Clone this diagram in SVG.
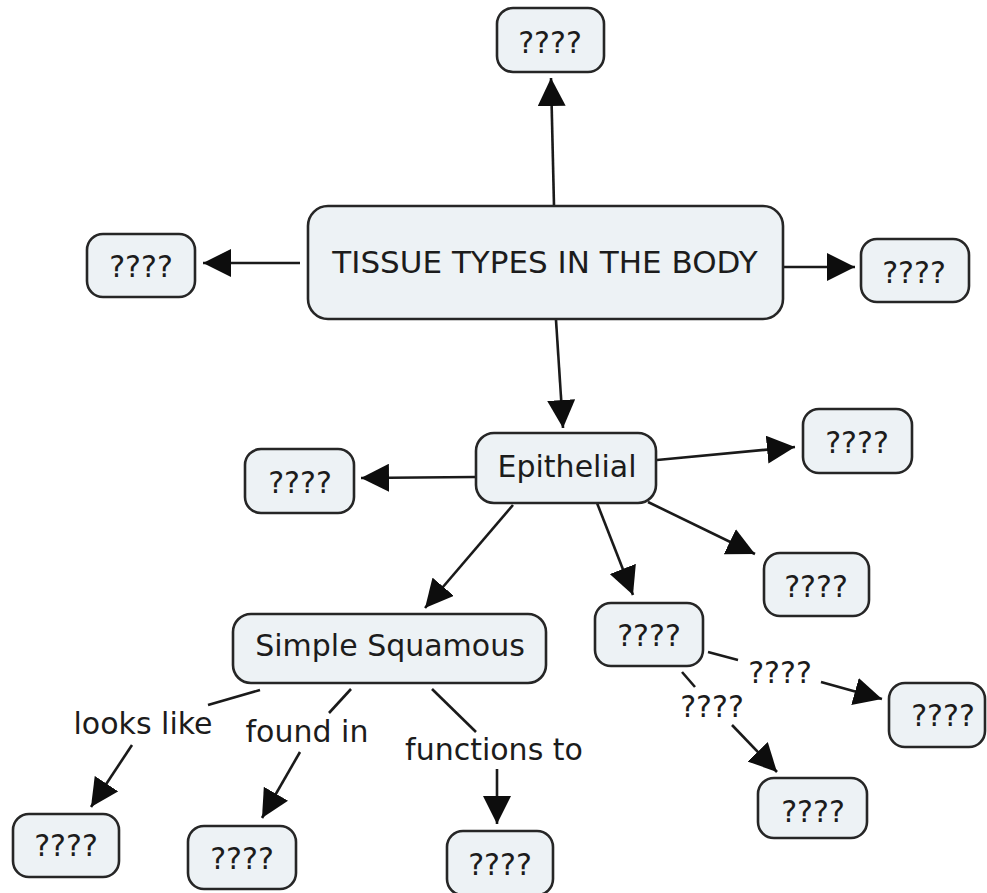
<svg xmlns="http://www.w3.org/2000/svg" width="987" height="893" viewBox="0 0 987 893">
<defs>
<style>
.node rect{fill:#edf2f5;stroke:#262626;stroke-width:2.6}
.node text,.lbl{font-family:"DejaVu Sans",Verdana,sans-serif;font-size:30px;fill:#1c1c1c;text-anchor:middle}
.conn line{stroke:#1a1a1a;stroke-width:2.6}
.arr{marker-end:url(#ah)}
</style>
<marker id="ah" viewBox="0 0 28 28" refX="28" refY="14" markerWidth="28" markerHeight="28" markerUnits="userSpaceOnUse" orient="auto">
<path d="M0,0 L28,14 L0,28 Z" fill="#0d0d0d"/>
</marker>
</defs>
<rect width="987" height="893" fill="#fff"/>
<g id="connectors" class="conn">
<line class="arr" x1="554" y1="206" x2="551" y2="78"/>
<line class="arr" x1="300" y1="263" x2="203" y2="263"/>
<line class="arr" x1="783" y1="267" x2="855" y2="267"/>
<line class="arr" x1="556" y1="320" x2="563" y2="428"/>
<line class="arr" x1="475" y1="477" x2="361" y2="478"/>
<line class="arr" x1="657" y1="460" x2="795" y2="447"/>
<line class="arr" x1="648" y1="502" x2="755" y2="554"/>
<line class="arr" x1="597" y1="503" x2="633" y2="595"/>
<line class="arr" x1="513" y1="505" x2="425" y2="608"/>
<line x1="708" y1="652" x2="738" y2="660"/>
<line class="arr" x1="821" y1="682" x2="882" y2="699"/>
<text class="lbl" x="780" y="683">????</text>
<line x1="682" y1="672" x2="695" y2="687"/>
<line class="arr" x1="732" y1="725" x2="777" y2="772"/>
<text class="lbl" x="712" y="717">????</text>
<line x1="260" y1="690" x2="208" y2="705"/>
<text class="lbl" x="143" y="734">looks like</text>
<line class="arr" x1="132" y1="745" x2="91" y2="807"/>
<line x1="351" y1="689" x2="329" y2="713"/>
<text class="lbl" x="307" y="742">found in</text>
<line class="arr" x1="300" y1="752" x2="262" y2="818"/>
<line x1="432" y1="689" x2="476" y2="732"/>
<text class="lbl" x="494" y="760">functions to</text>
<line class="arr" x1="497" y1="769" x2="497" y2="824"/>
</g>
<g id="n-main" class="node"><rect x="308" y="206" width="475" height="113" rx="20"/><text x="545" y="273" style="font-size:31px">TISSUE TYPES IN THE BODY</text></g>
<g id="n-top" class="node"><rect x="497" y="8" width="107" height="64" rx="16"/><text x="550" y="53">????</text></g>
<g id="n-left" class="node"><rect x="87" y="234" width="108" height="63" rx="16"/><text x="141" y="277">????</text></g>
<g id="n-right" class="node"><rect x="861" y="239" width="108" height="63" rx="16"/><text x="914" y="283">????</text></g>
<g id="n-epithelial" class="node"><rect x="476" y="433" width="180" height="70" rx="18"/><text x="567" y="477">Epithelial</text></g>
<g id="n-epi-left" class="node"><rect x="245" y="449" width="109" height="64" rx="16"/><text x="300" y="493">????</text></g>
<g id="n-epi-upright" class="node"><rect x="803" y="409" width="109" height="64" rx="16"/><text x="857" y="453">????</text></g>
<g id="n-epi-lowright" class="node"><rect x="764" y="553" width="105" height="63" rx="16"/><text x="816" y="597">????</text></g>
<g id="n-mid" class="node"><rect x="595" y="603" width="108" height="63" rx="16"/><text x="649" y="646">????</text></g>
<g id="n-mid-right" class="node"><rect x="889" y="683" width="96" height="64" rx="16"/><text x="943" y="726">????</text></g>
<g id="n-mid-bottom" class="node"><rect x="758" y="778" width="109" height="60" rx="16"/><text x="813" y="822">????</text></g>
<g id="n-squamous" class="node"><rect x="233" y="614" width="313" height="69" rx="18"/><text x="390" y="656">Simple Squamous</text></g>
<g id="n-looks" class="node"><rect x="13" y="814" width="106" height="63" rx="16"/><text x="66" y="856">????</text></g>
<g id="n-found" class="node"><rect x="188" y="826" width="108" height="63" rx="16"/><text x="242" y="869">????</text></g>
<g id="n-func" class="node"><rect x="447" y="831" width="106" height="64" rx="16"/><text x="500" y="875">????</text></g>
</svg>
